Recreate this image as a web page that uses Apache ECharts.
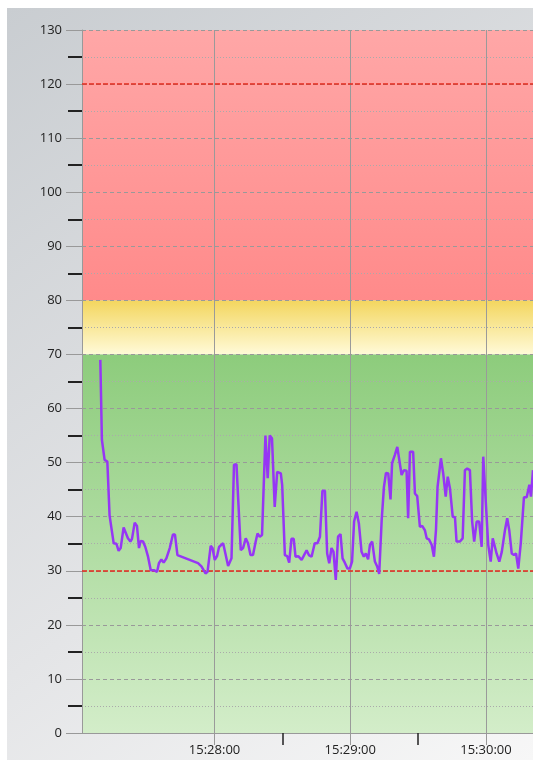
<!DOCTYPE html>
<html>
<head>
<meta charset="utf-8">
<script src="https://cdn.jsdelivr.net/npm/echarts@6/dist/echarts.min.js"></script>
<style>
  html, body { margin: 0; padding: 0; background: #fff; }
  #chart { width: 533px; height: 765px; }
</style>
</head>
<body>
<div id="chart"></div>
<script>
// seconds after 15:27:00
const seconds = [
  9.5, 10.2, 11.4, 12.6, 13.6, 14.4, 15.4, 16.6, 17.6, 18.5,
  19.8, 20.6, 21.7, 22.8, 23.5, 24.7, 25.7, 26.6, 27.3, 28.4,
  29.4, 30.6, 31.8, 33.2, 34.6, 35.4, 36.5, 37.5, 38.7, 40.2,
  41.6, 42.5, 43.6, 52.7, 54.2, 56.0, 56.9, 58.3, 59.1, 60.1,
  61.1, 62.0, 63.8, 64.8, 66.0, 67.5, 68.2, 68.6, 69.7, 70.4,
  71.6, 72.6, 73.8, 74.8, 75.9, 77.0, 78.2, 79.0, 80.0, 81.0,
  82.5, 83.5, 84.4, 85.4, 86.6, 87.7, 89.3, 89.9, 91.1, 92.1,
  93.0, 94.0, 95.0, 95.8, 97.0, 98.5, 99.6, 100.7, 101.7, 102.9,
  104.3, 105.5, 106.6, 107.7, 108.8, 109.8, 110.7, 111.7, 112.6, 113.6,
  114.6, 115.7, 116.6, 117.6, 118.8, 119.8, 120.8, 121.7, 122.8, 123.8,
  125.0, 126.0, 126.9, 127.9, 128.7, 129.7, 130.9, 131.9, 132.8, 133.9,
  134.9, 135.8, 136.8, 137.8, 138.5, 139.7, 140.8, 141.6, 142.7, 143.7,
  144.9, 145.6, 146.4, 147.8, 148.6, 149.6, 150.8, 151.8, 153.0, 153.8,
  154.8, 156.0, 157.0, 157.9, 158.6, 160.1, 161.1, 162.2, 163.1, 164.1,
  165.3, 166.3, 167.0, 168.5, 169.7, 170.7, 171.7, 172.9, 173.9, 174.8,
  175.9, 177.0, 178.1, 178.8, 179.6, 181.0, 182.1, 183.0, 183.7, 184.7,
  185.9, 187.0, 188.4, 189.4, 190.3, 191.4, 192.4, 193.3, 194.3, 195.4,
  196.8, 198.0, 199.2, 199.9, 200.8
];
const values = [
  69.0, 54.2, 50.5, 50.2, 40.2, 40.0, 35.1, 35.0, 33.7, 34.2,
  38.0, 38.3, 36.0, 35.4, 35.9, 38.9, 38.3, 34.2, 35.5, 35.4,
  34.4, 32.6, 30.1, 30.1, 29.8, 31.4, 32.1, 31.5, 32.3, 34.2,
  36.7, 36.7, 32.9, 31.4, 30.8, 29.5, 29.8, 34.6, 34.2, 32.0,
  32.7, 34.4, 35.1, 33.2, 30.9, 32.3, 32.6, 49.6, 49.7, 43.7,
  33.8, 34.2, 36.0, 35.1, 32.9, 32.9, 35.4, 36.9, 36.3, 36.6,
  55.0, 47.1, 55.0, 54.5, 41.8, 48.3, 48.0, 45.9, 32.9, 32.7,
  31.5, 35.9, 35.9, 32.6, 32.7, 32.0, 32.9, 33.8, 32.9, 32.6,
  35.1, 35.1, 36.3, 44.8, 44.8, 33.2, 31.4, 34.2, 33.5, 28.3,
  36.3, 36.8, 32.3, 31.5, 30.4, 30.4, 31.7, 39.1, 40.9, 38.8,
  33.5, 32.6, 33.2, 32.1, 34.8, 35.4, 31.7, 30.8, 29.4, 39.4,
  45.5, 48.1, 48.0, 43.2, 49.9, 51.4, 52.9, 52.6, 47.7, 48.6,
  48.5, 39.7, 52.0, 52.0, 44.3, 43.8, 38.1, 38.3, 37.5, 36.0,
  35.8, 34.8, 32.6, 37.5, 45.5, 50.8, 48.0, 43.7, 47.4, 45.2,
  40.0, 39.9, 35.4, 35.4, 36.0, 48.6, 48.9, 48.6, 39.1, 35.4,
  39.1, 39.1, 34.4, 51.1, 51.2, 34.8, 31.7, 36.0, 35.7, 33.2,
  31.7, 33.5, 37.5, 39.7, 37.5, 33.2, 32.9, 33.2, 30.4, 35.1,
  43.6, 43.6, 45.9, 43.7, 48.6
];

// zones: [from, to, top colour, bottom colour]
const zones = [
  [80, 130, '#ffa7a7', '#ff8a8a'],
  [70, 80, '#f3d65e', '#fffad8'],
  [0, 70, '#8dcc7c', '#d3edc9']
];
const limitLines = [120, 30];
const xStart = 1.4;   // seconds after 15:27:00
const xEnd = 200.8;
const halfMinuteTicks = [90, 150]; // 15:28:30, 15:29:30

const base = new Date(2024, 0, 1, 15, 27, 0).getTime();
const toTime = s => base + s * 1000;
const lineData = seconds.map((s, i) => [toTime(s), values[i]]);

const grad = (top, bottom) => new echarts.graphic.LinearGradient(0, 0, 0, 1, [
  { offset: 0, color: top },
  { offset: 1, color: bottom }
]);

const chart = echarts.init(document.getElementById('chart'));
const font = 'Open Sans';

chart.setOption({
  animation: false,
  graphic: [{
    type: 'rect',
    left: 7, top: 8, z: -10, silent: true,
    shape: { width: 526, height: 752 },
    style: {
      fill: new echarts.graphic.LinearGradient(0, 0, 1, 1, [
        { offset: 0, color: '#c9cdd1' },
        { offset: 0.6, color: '#e4e5e7' },
        { offset: 1, color: '#f7f7f7' }
      ])
    }
  }],
  grid: { left: 82, top: 30, right: 0, bottom: 32 },
  xAxis: [
    {
      type: 'time',
      z: 3,
      min: toTime(xStart),
      max: toTime(xEnd),
      minInterval: 60000,
      maxInterval: 60000,
      axisLine: { lineStyle: { color: '#999', width: 1 } },
      axisTick: { show: true, length: 12, lineStyle: { color: '#999' } },
      axisLabel: {
        color: '#222', fontSize: 13, fontFamily: font, margin: 11,
        showMinLabel: false, showMaxLabel: false,
        formatter: v => echarts.time.format(v, '{HH}:{mm}:{ss}', false)
      },
      splitLine: { show: true, lineStyle: { color: '#9a9a9a', width: 1 } }
    },
    {
      type: 'time',
      position: 'bottom',
      z: 3,
      min: toTime(xStart),
      max: toTime(xEnd),
      axisLine: { show: false },
      axisTick: {
        show: true, length: 12,
        customValues: halfMinuteTicks.map(toTime),
        lineStyle: { color: '#222', width: 1.5 }
      },
      axisLabel: { show: false },
      splitLine: { show: false }
    }
  ],
  yAxis: {
    type: 'value',
    z: 3,
    min: 0, max: 130, interval: 10,
    axisLine: { show: true, lineStyle: { color: '#999' } },
    axisTick: { show: true, length: 16, lineStyle: { color: '#999' } },
    minorTick: { show: true, splitNumber: 2, length: 14, lineStyle: { color: '#222', width: 2 } },
    axisLabel: { color: '#222', fontSize: 13, fontFamily: font, margin: 20 },
    splitLine: { show: true, lineStyle: { color: '#999', type: [4, 3], width: 1 } },
    minorSplitLine: { show: true, lineStyle: { color: '#aaa', type: [1, 2], width: 1 } }
  },
  series: [
    {
      type: 'line',
      z: 1,
      data: [],
      silent: true,
      markArea: {
        silent: true,
        data: zones.map(z => [
          { yAxis: z[0], itemStyle: { color: grad(z[2], z[3]) } },
          { yAxis: z[1] }
        ])
      }
    },
    {
      type: 'line',
      z: 5,
      data: lineData,
      showSymbol: false,
      lineStyle: { color: '#9636f5', width: 2.5 },
      itemStyle: { color: '#9636f5' },
      markLine: {
        silent: true,
        symbol: 'none',
        label: { show: false },
        lineStyle: { color: '#e52a1c', type: [5, 2], width: 1.5, opacity: 1 },
        emphasis: { disabled: true },
        data: limitLines.map(v => ({ yAxis: v }))
      }
    }
  ]
});
</script>
</body>
</html>
